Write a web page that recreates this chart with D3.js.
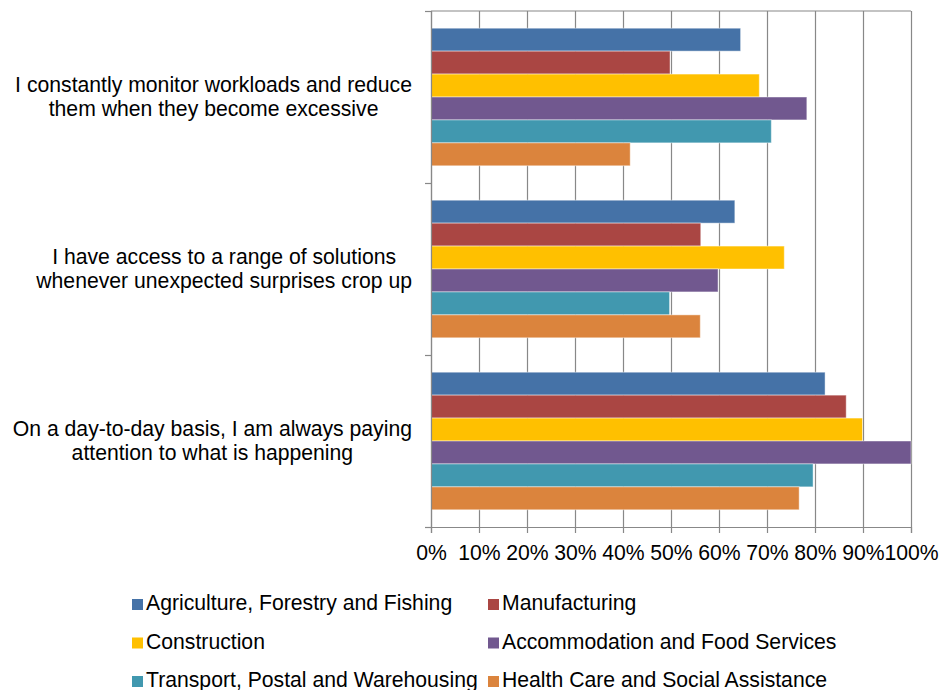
<!DOCTYPE html>
<html>
<head>
<meta charset="utf-8">
<script src="https://cdn.jsdelivr.net/npm/d3@7/dist/d3.min.js"></script>
<style>
  html, body { margin: 0; padding: 0; background: #fff; }
  svg { display: block; font-family: "Liberation Sans", Arial, sans-serif; }
</style>
</head>
<body>
<svg id="chart" width="942" height="690"></svg>
<script>
// Survey statements, top to bottom; each label is split into its two lines
const categories = [
  ["I constantly monitor workloads and reduce", "them when they become excessive"],
  ["I have access to a range of solutions", "whenever unexpected surprises crop up"],
  ["On a day-to-day basis, I am always paying", "attention to what is happening"]
];

const seriesNames = [
  "Agriculture, Forestry and Fishing",
  "Manufacturing",
  "Construction",
  "Accommodation and Food Services",
  "Transport, Postal and Warehousing",
  "Health Care and Social Assistance"
];

const seriesColors = ["#4572A7", "#AA4643", "#FFC000", "#71588F", "#4198AF", "#DB843D"];

// Share agreeing, one value per statement (same order as categories)
const agriculture    = [0.645, 0.633, 0.821];
const manufacturing  = [0.498, 0.562, 0.865];
const construction   = [0.684, 0.736, 0.899];
const accommodation  = [0.783, 0.598, 1.000];
const transport      = [0.709, 0.497, 0.796];
const healthCare     = [0.415, 0.561, 0.767];

const seriesValues = [agriculture, manufacturing, construction, accommodation, transport, healthCare];

const tickValues = [0, 0.1, 0.2, 0.3, 0.4, 0.5, 0.6, 0.7, 0.8, 0.9, 1.0];

const svg = d3.select("#chart");
const plot = { left: 431, right: 911, top: 11, bottom: 527 };
const gridColor = "#888888";
const fontSize = 21.2;

const x = d3.scaleLinear().domain([0, 1]).range([plot.left, plot.right]);
const y = d3.scaleBand().domain(d3.range(categories.length)).range([plot.top, plot.bottom]).padding(0);
const ySeries = d3.scaleBand().domain(d3.range(seriesNames.length))
  .range([0, y.bandwidth()]).paddingInner(0).paddingOuter(0.75);

// vertical gridlines
const grid = svg.append("g")
  .attr("transform", `translate(0,${plot.bottom})`)
  .call(d3.axisBottom(x).tickValues(tickValues).tickSize(-(plot.bottom - plot.top)).tickFormat(""));
grid.select(".domain").remove();
grid.selectAll("line").attr("stroke", gridColor).attr("stroke-width", 1.2);

// top border of the plot area
svg.append("line")
  .attr("x1", plot.left).attr("x2", plot.right)
  .attr("y1", plot.top).attr("y2", plot.top)
  .attr("stroke", gridColor).attr("stroke-width", 1.2);

// bars
const groups = svg.append("g").selectAll("g")
  .data(categories)
  .join("g")
  .attr("transform", (d, i) => `translate(0,${y(i)})`);

groups.selectAll("rect")
  .data((d, ci) => seriesValues.map((vals, si) => ({ si, v: vals[ci] })))
  .join("rect")
  .attr("x", x(0))
  .attr("y", d => ySeries(d.si))
  .attr("width", d => x(d.v) - x(0))
  .attr("height", ySeries.bandwidth())
  .attr("fill", d => seriesColors[d.si])
  .attr("stroke", "#ffffff")
  .attr("stroke-opacity", 0.45)
  .attr("stroke-width", 1);

// bottom value axis
const xAxis = svg.append("g")
  .attr("transform", `translate(0,${plot.bottom})`)
  .call(d3.axisBottom(x).tickValues(tickValues).tickSize(6).tickPadding(12).tickFormat(d3.format(".0%")));
xAxis.select(".domain").attr("stroke", gridColor).attr("stroke-width", 1.2);
xAxis.selectAll("line").attr("stroke", gridColor).attr("stroke-width", 1.2);
xAxis.selectAll("text")
  .attr("fill", "#000")
  .style("font-size", fontSize + "px")
  .style("font-family", "'Liberation Sans', Arial, sans-serif");

// left category axis: ticks at the band boundaries
const boundary = d3.scaleLinear().domain([0, categories.length]).range([plot.top, plot.bottom]);
const yAxis = svg.append("g")
  .attr("transform", `translate(${plot.left},0)`)
  .call(d3.axisLeft(boundary).tickValues(d3.range(categories.length + 1)).tickSize(6).tickFormat(""));
yAxis.select(".domain").attr("stroke", gridColor).attr("stroke-width", 1.2);
yAxis.selectAll("line").attr("stroke", gridColor).attr("stroke-width", 1.2);

// category labels: the two lines are centred on each other, block right-aligned to the axis
const labelRight = 412;
const lineGap = 23.5;
categories.forEach((lines, i) => {
  const cy = y(i) + y.bandwidth() / 2;
  const block = svg.append("g");
  const texts = lines.map((t, k) => block.append("text")
    .attr("y", cy - 4.8 + k * lineGap)
    .attr("font-size", fontSize)
    .attr("fill", "#000")
    .attr("text-anchor", "middle")
    .text(t));
  const maxW = d3.max(texts, t => t.node().getComputedTextLength());
  texts.forEach(t => t.attr("x", labelRight - maxW / 2));
});

// legend: two columns, three rows
const legendCols = [132, 488];
const legendRows = [610, 648.5, 687];
const legend = svg.append("g");
seriesNames.forEach((name, i) => {
  const lx = legendCols[i % 2];
  const ly = legendRows[Math.floor(i / 2)];
  legend.append("rect")
    .attr("x", lx).attr("y", ly - 11)
    .attr("width", 11).attr("height", 11)
    .attr("fill", seriesColors[i]);
  legend.append("text")
    .attr("x", lx + 14).attr("y", ly)
    .attr("font-size", fontSize)
    .attr("fill", "#000")
    .text(name);
});
</script>
</body>
</html>
